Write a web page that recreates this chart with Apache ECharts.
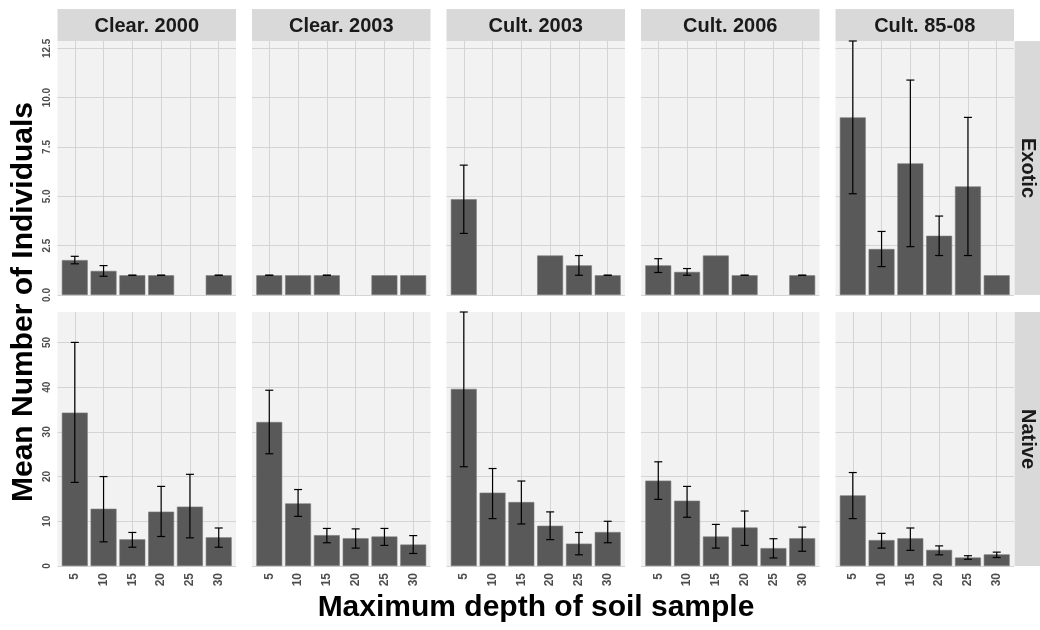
<!DOCTYPE html>
<html>
<head>
<meta charset="utf-8">
<script src="https://cdn.jsdelivr.net/npm/echarts@6/dist/echarts.min.js"></script>
<style>
  html, body { margin: 0; padding: 0; background: #fff; }
  #chart { width: 1040px; height: 630px; }
</style>
</head>
<body>
<div id="chart"></div>
<script>
// facet labels
const depths = ["5", "10", "15", "20", "25", "30"];
const treatments = ["Clear. 2000", "Clear. 2003", "Cult. 2003", "Cult. 2006", "Cult. 85-08"];
const origins = ["Exotic", "Native"];

// Exotic: mean and error bar ends, one row per treatment (null = nothing drawn)
const exoticMean = [
  [1.77, 1.22, 1, 1, null, 1],
  [1, 1, 1, null, 1, 1],
  [4.85, null, null, 2, 1.5, 1],
  [1.5, 1.17, 2, 1, null, 1],
  [9.0, 2.33, 6.67, 3.0, 5.5, 1],
];
const exoticLower = [
  [1.58, 0.95, 1, 1, null, 1],
  [1, null, 1, null, null, null],
  [3.12, null, null, null, 1.0, 1],
  [1.14, 1.0, null, 1, null, 1],
  [5.13, 1.44, 2.45, 2.0, 2.0, null],
];
const exoticUpper = [
  [1.96, 1.49, 1, 1, null, 1],
  [1, null, 1, null, null, null],
  [6.58, null, null, null, 2.0, 1],
  [1.84, 1.34, null, 1, null, 1],
  [12.87, 3.22, 10.89, 4.0, 9.0, null],
];

// Native
const nativeMean = [
  [34.3, 12.8, 5.97, 12.16, 13.28, 6.42],
  [32.2, 14.0, 6.9, 6.2, 6.6, 4.8],
  [39.6, 16.4, 14.3, 9.0, 5.0, 7.6],
  [19.1, 14.6, 6.6, 8.6, 4.0, 6.2],
  [15.8, 5.8, 6.2, 3.6, 1.9, 2.6],
];
const nativeLower = [
  [18.7, 5.4, 4.2, 6.6, 6.3, 4.2],
  [25.1, 11.1, 5.2, 4.0, 4.6, 2.8],
  [22.2, 10.6, 9.4, 5.9, 2.5, 5.2],
  [14.9, 10.9, 4.0, 4.6, 1.8, 3.3],
  [10.6, 4.0, 3.5, 2.5, 1.5, 1.9],
];
const nativeUpper = [
  [50.0, 20.0, 7.5, 17.8, 20.5, 8.5],
  [39.3, 17.1, 8.4, 8.3, 8.4, 6.8],
  [56.8, 21.8, 19.0, 12.1, 7.5, 10.0],
  [23.3, 17.8, 9.3, 12.3, 6.1, 8.7],
  [20.9, 7.3, 8.5, 4.5, 2.3, 3.1],
];

const yTickStep = [2.5, 10];

// layout
const panelLeft = 57.5;
const panelPitch = 194.5;
const panelWidth = 178.5;
const rowTop = [41, 312];
const panelHeight = 254;
const stripTop = 9;
const stripHeight = 32;
const stripRightX = 1014.5;
const stripRightW = 25.5;
const fontFamily = "'Liberation Sans', Arial, sans-serif";
const barWidth = 0.9 * panelWidth / 6.2;

const rows = [
  { mean: exoticMean, lower: exoticLower, upper: exoticUpper },
  { mean: nativeMean, lower: nativeLower, upper: nativeUpper },
];

function rowMax(r) {
  let m = 0;
  r.upper.forEach(a => a.forEach(v => { if (v != null && v > m) m = v; }));
  r.mean.forEach(a => a.forEach(v => { if (v != null && v > m) m = v; }));
  return m;
}

function renderErr(params, api) {
  const x = api.value(0);
  const lo = api.value(1);
  const hi = api.value(2);
  const p1 = api.coord([x, lo]);
  const p2 = api.coord([x, hi]);
  const w = 4;
  const st = { stroke: "#000", lineWidth: 1.2 };
  return {
    type: "group",
    children: [
      { type: "line", shape: { x1: p1[0], y1: p1[1], x2: p2[0], y2: p2[1] }, style: st },
      { type: "line", shape: { x1: p1[0] - w, y1: p1[1], x2: p1[0] + w, y2: p1[1] }, style: st },
      { type: "line", shape: { x1: p2[0] - w, y1: p2[1], x2: p2[0] + w, y2: p2[1] }, style: st },
    ],
  };
}

const grid = [], xAxis = [], yAxis = [], series = [], graphic = [];

rows.forEach((r, ri) => {
  const ymax = rowMax(r);
  treatments.forEach((t, ci) => {
    const g = ri * treatments.length + ci;
    grid.push({
      left: panelLeft + ci * panelPitch,
      top: rowTop[ri],
      width: panelWidth,
      height: panelHeight,
      show: true,
      backgroundColor: "#f2f2f2",
      borderWidth: 0,
    });
    xAxis.push({
      type: "value",
      gridIndex: g,
      min: 0.4,
      max: 6.6,
      axisLine: { show: false },
      axisTick: { show: false },
      splitLine: { show: true, showMinLine: false, showMaxLine: false, lineStyle: { color: "#d4d4d4", width: 1 } },
      axisLabel: {
        show: ri === 1,
        showMinLabel: false,
        showMaxLabel: false,
        rotate: 90,
        margin: 7,
        color: "#4d4d4d",
        fontSize: 12,
        fontWeight: "bold",
        fontFamily: fontFamily,
        formatter: v => (Number.isInteger(v) ? depths[v - 1] || "" : ""),
      },
    });
    yAxis.push({
      type: "value",
      gridIndex: g,
      min: 0,
      max: ymax,
      interval: yTickStep[ri],
      axisLine: { show: false },
      axisTick: { show: false },
      splitLine: { show: true, showMaxLine: false, lineStyle: { color: "#d4d4d4", width: 1 } },
      axisLabel: {
        show: ci === 0,
        showMaxLabel: false,
        rotate: 90,
        margin: 5,
        align: "center",
        verticalAlign: "bottom",
        color: "#4d4d4d",
        fontSize: 10,
        fontWeight: "bold",
        fontFamily: fontFamily,
        formatter: v => (ri === 0 ? v.toFixed(1) : String(v)),
      },
    });

    const bars = [];
    const errs = [];
    r.mean[ci].forEach((v, k) => {
      if (v != null) bars.push([k + 1, v]);
      const lo = r.lower[ci][k];
      const hi = r.upper[ci][k];
      if (lo != null && hi != null) errs.push([k + 1, lo, hi]);
    });
    series.push({
      type: "bar",
      xAxisIndex: g,
      yAxisIndex: g,
      data: bars,
      barWidth: barWidth,
      itemStyle: { color: "#595959", borderColor: "#7a7a7a", borderWidth: 0.6 },
      z: 2,
    });
    series.push({
      type: "custom",
      xAxisIndex: g,
      yAxisIndex: g,
      data: errs,
      renderItem: renderErr,
      clip: false,
      z: 3,
    });
  });
});

// top strips
treatments.forEach((t, ci) => {
  const x = panelLeft + ci * panelPitch;
  graphic.push({
    type: "rect",
    shape: { x: x, y: stripTop, width: panelWidth, height: stripHeight },
    style: { fill: "#d9d9d9" },
  });
  graphic.push({
    type: "text",
    x: x + panelWidth / 2,
    y: stripTop + stripHeight / 2 + 1,
    style: {
      text: t,
      font: "bold 20px " + fontFamily,
      fill: "#1a1a1a",
      align: "center",
      verticalAlign: "middle",
    },
  });
});

// right strips
origins.forEach((o, ri) => {
  graphic.push({
    type: "rect",
    shape: { x: stripRightX, y: rowTop[ri], width: stripRightW, height: panelHeight },
    style: { fill: "#d9d9d9" },
  });
  graphic.push({
    type: "text",
    x: stripRightX + stripRightW / 2,
    y: rowTop[ri] + panelHeight / 2,
    rotation: -Math.PI / 2,
    style: {
      text: o,
      font: "bold 20px " + fontFamily,
      fill: "#1a1a1a",
      align: "center",
      verticalAlign: "middle",
    },
  });
});

// axis titles
graphic.push({
  type: "text",
  x: 24,
  y: 302,
  rotation: Math.PI / 2,
  style: {
    text: "Mean Number of Individuals",
    font: "bold 30px " + fontFamily,
    fill: "#000",
    align: "center",
    verticalAlign: "middle",
  },
});
graphic.push({
  type: "text",
  x: 536,
  y: 608,
  style: {
    text: "Maximum depth of soil sample",
    font: "bold 30px " + fontFamily,
    fill: "#000",
    align: "center",
    verticalAlign: "middle",
  },
});

const chart = echarts.init(document.getElementById("chart"), null, { renderer: "canvas" });
chart.setOption({
  animation: false,
  backgroundColor: "#fff",
  grid: grid,
  xAxis: xAxis,
  yAxis: yAxis,
  series: series,
  graphic: graphic,
});
</script>
</body>
</html>
